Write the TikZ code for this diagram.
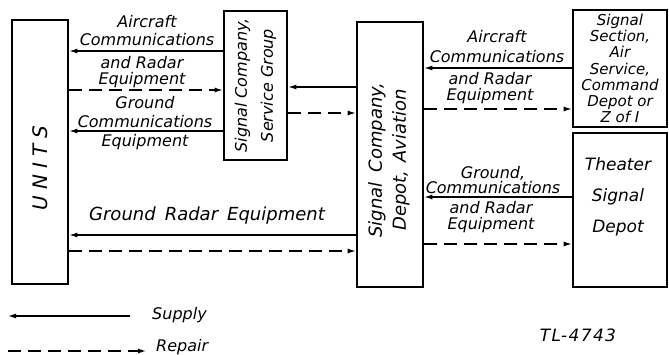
\documentclass[tikz,border=0pt]{standalone}
\usepackage{fontspec}
\setmainfont{DejaVu Sans}
\usetikzlibrary{arrows.meta}

\tikzset{
  box/.style={draw, line width=2.6pt, inner sep=0pt},
  supply/.style={line width=1.2pt, -{Latex[length=8pt,width=5pt]}},
  repair/.style={supply, dash pattern=on 13pt off 7pt},
  lbl/.style={font=\fontsize{16}{17}\selectfont\itshape, align=center, inner sep=0pt},
  boxtxt/.style={lbl, rotate=90},
}

\begin{document}
\begin{tikzpicture}[x=1pt, y=-1pt]

    \useasboundingbox (0,0) rectangle (669,355);

    % boxes
    \node[box, minimum width=56pt, minimum height=264pt] (units) at (40,152) {};
    \node[box, minimum width=63pt, minimum height=149pt] (scsg) at (255.5,85.5) {};
    \node[box, minimum width=66pt, minimum height=265pt] (depot) at (390,154.5) {};
    \node[box, minimum width=94pt, minimum height=117pt] (section) at (620,68.5) {};
    \node[box, minimum width=94pt, minimum height=154pt] (theater) at (620,210) {};

    \node[boxtxt, font=\fontsize{20}{22}\selectfont\itshape\addfontfeature{LetterSpace=30}]
        (unitsT) at (40,168) {UNITS};
    \node[boxtxt, font=\fontsize{16}{26}\selectfont\itshape] (scsgT) at (scsg.center)
        {Signal Company,\\Service Group};
    \node[boxtxt, font=\fontsize{18}{24}\selectfont\itshape] (depotT) at (389,160)
        {Signal\hspace{10pt}Company,\\Depot,\hspace{8pt}Aviation};
    \node[lbl, font=\fontsize{15}{16.3}\selectfont\itshape] (sectionT) at (section.center)
        {Signal\\Section,\\Air\\Service,\\Command\\Depot or\\Z of I};
    \node[lbl, font=\fontsize{17}{31}\selectfont\itshape] (theaterT) at (618,197)
        {Theater\\Signal\\Depot};

    % units and service group
    \draw[supply] (scsg.west |- 0,51) -- (units.east |- 0,51);
    \draw[repair] (units.east |- 0,90) -- (scsg.west |- 0,90);
    \draw[supply] (scsg.west |- 0,131) -- (units.east |- 0,131);
    \node[lbl, font=\fontsize{16}{18}\selectfont\itshape] (l1) at (147,31) {Aircraft\\Communications};
    \node[lbl, font=\fontsize{16}{16}\selectfont\itshape] (l2) at (142,72) {and Radar\\Equipment};
    \node[lbl, font=\fontsize{16}{19}\selectfont\itshape] (l3) at (145,123) {Ground\\Communications\\Equipment};

    % service group and depot
    \draw[supply] (depot.west |- 0,87) -- (scsg.east |- 0,87);
    \draw[repair] (scsg.east |- 0,113) -- (depot.west |- 0,113);

    % depot and signal section
    \draw[supply] (section.west |- 0,68) -- (depot.east |- 0,68);
    \draw[repair] (depot.east |- 0,109) -- (section.west |- 0,109);
    \node[lbl, font=\fontsize{16}{20}\selectfont\itshape] (r1) at (497,47) {Aircraft\\Communications};
    \node[lbl, font=\fontsize{16}{16}\selectfont\itshape] (r2) at (490,88) {and Radar\\Equipment};

    % depot and theater
    \draw[supply] (theater.west |- 0,197) -- (depot.east |- 0,197);
    \draw[repair] (depot.east |- 0,244) -- (theater.west |- 0,244);
    \node[lbl, font=\fontsize{16}{15}\selectfont\itshape] (r3) at (493,180) {Ground,\\Communications};
    \node[lbl, font=\fontsize{16}{16}\selectfont\itshape] (r4) at (491,217) {and Radar\\Equipment};

    % ground radar
    \draw[supply] (depot.west |- 0,235) -- (units.east |- 0,235);
    \draw[repair] (units.east |- 0,251) -- (depot.west |- 0,251);
    \node[lbl, font=\fontsize{18}{20}\selectfont\itshape] (gr) at (207,216)
        {Ground\hspace{9pt}Radar\hspace{9pt}Equipment};

    % legend
    \coordinate (supL) at (8,316);
    \coordinate (supR) at (130,316);
    \draw[supply] (supR) -- (supL);
    \node[lbl, anchor=base west] (supT) at (152,319) {Supply};
    \coordinate (repL) at (8,351);
    \coordinate (repR) at (146,351);
    \draw[repair] (repL) -- (repR);
    \node[lbl, anchor=base west] (repT) at (156,351) {Repair};

    \node[lbl, font=\fontsize{17}{18}\selectfont\itshape\addfontfeature{LetterSpace=8}] (tl) at (578,335) {TL-4743};

\end{tikzpicture}
\end{document}
